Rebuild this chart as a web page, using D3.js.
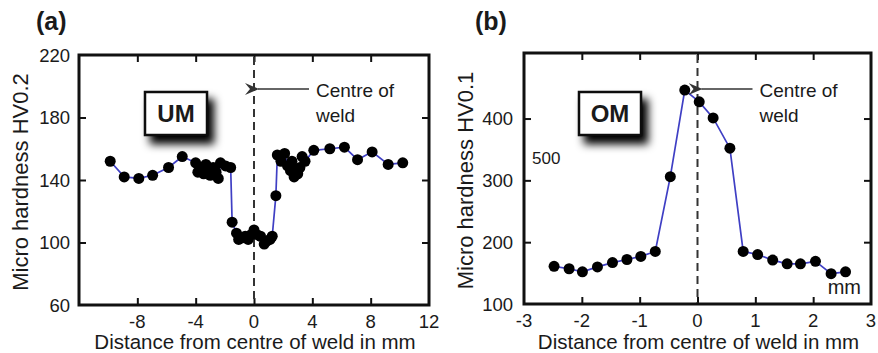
<!DOCTYPE html>
<html>
<head>
<meta charset="utf-8">
<script src="https://cdn.jsdelivr.net/npm/d3@7"></script>
<style>
  body { margin: 0; background: #fff; }
  text { font-family: "Liberation Sans", Arial, sans-serif; fill: #1a1a1a; }
</style>
</head>
<body>
<svg id="chart" width="878" height="353"></svg>
<script>
// panel (a): UM, HV0.2
const umX = [-9.86, -8.9, -7.9, -6.95, -5.86, -4.92, -4.0, -3.85, -3.65, -3.45, -3.3, -3.15, -3.0, -2.8, -2.6, -2.45, -2.3, -1.95, -1.6,
  -1.5, -1.2, -1.05, -0.8, -0.6, -0.4, -0.2, 0.0, 0.2, 0.45, 0.7, 0.9, 1.1, 1.25, 1.5,
  1.6, 1.85, 2.1, 2.3, 2.5, 2.6, 2.75, 2.9, 3.0, 3.15, 3.3, 3.5, 4.1, 5.2, 6.2, 7.1, 8.1, 9.2, 10.2];
const umY = [152, 142, 141, 143, 148, 155, 151, 145, 148, 144, 150, 146, 143, 148, 145, 141, 151, 149, 148,
  113, 106, 102, 103, 104, 102, 105, 108, 105, 104, 99, 101, 102, 104, 130,
  156, 152, 157, 149, 146, 152, 142, 147, 144, 148, 155, 152, 159, 160, 161, 153, 158, 150, 151];
const umXTicks = [-8, -4, 0, 4, 8, 12];
const umYTicks = [60, 100, 140, 180, 220];

// panel (b): OM, HV0.1
const omX = [-2.48, -2.22, -1.99, -1.73, -1.47, -1.22, -0.98, -0.73, -0.47, -0.22, 0.03, 0.27, 0.56, 0.79, 1.04, 1.3, 1.55, 1.78, 2.04, 2.31, 2.56];
const omY = [161, 157, 152, 160, 167, 172, 177, 185, 306, 446, 427, 401, 352, 185, 180, 171, 165, 165, 169, 149, 152];
const omXTicks = [-3, -2, -1, 0, 1, 2, 3];
const omYTicks = [100, 200, 300, 400];

const svg = d3.select('#chart');

const defs = svg.append('defs');
const shadow = defs.append('filter').attr('id', 'shadow')
    .attr('x', '-30%').attr('y', '-30%').attr('width', '170%').attr('height', '190%');
shadow.append('feGaussianBlur').attr('in', 'SourceAlpha').attr('stdDeviation', 4);
shadow.append('feOffset').attr('dx', 6).attr('dy', 8).attr('result', 'off');
shadow.append('feComponentTransfer').append('feFuncA').attr('type', 'linear').attr('slope', 1);
const merge = shadow.append('feMerge');
merge.append('feMergeNode');
merge.append('feMergeNode').attr('in', 'SourceGraphic');

defs.append('marker').attr('id', 'arrow')
    .attr('viewBox', '0 0 14 12').attr('refX', 1).attr('refY', 6)
    .attr('markerWidth', 14).attr('markerHeight', 12).attr('markerUnits', 'userSpaceOnUse')
    .attr('orient', 'auto-start-reverse')
  .append('path').attr('d', 'M0,6 L14,0 L9,6 L14,12 Z').attr('fill', '#333');

function drawPanel(cfg) {
    const x = d3.scaleLinear().domain(cfg.xDomain).range([cfg.left, cfg.right]);
    const y = d3.scaleLinear().domain(cfg.yDomain).range([cfg.bottom, cfg.top]);
    const g = svg.append('g');

    // ticks pointing inwards on all four sides
    const tk = 7;
    const innerX = cfg.xTicks.filter(d => d > cfg.xDomain[0] && d < cfg.xDomain[1]);
    const innerY = cfg.yTicks.filter(d => d > cfg.yDomain[0] && d < cfg.yDomain[1]);
    g.append('g').attr('transform', `translate(0,${cfg.bottom})`)
        .call(d3.axisTop(x).tickValues(innerX).tickSize(tk).tickFormat(''));
    g.append('g').attr('transform', `translate(0,${cfg.top})`)
        .call(d3.axisBottom(x).tickValues(innerX).tickSize(tk).tickFormat(''));
    g.append('g').attr('transform', `translate(${cfg.left},0)`)
        .call(d3.axisRight(y).tickValues(innerY).tickSize(tk).tickFormat(''));
    g.append('g').attr('transform', `translate(${cfg.right},0)`)
        .call(d3.axisLeft(y).tickValues(innerY).tickSize(tk).tickFormat(''));
    g.selectAll('.domain').remove();
    g.selectAll('.tick line').attr('stroke', '#111').attr('stroke-width', 2);

    // tick labels
    g.selectAll('.xl').data(cfg.xTicks).join('text')
        .attr('x', d => x(d)).attr('y', cfg.bottom + 23)
        .attr('text-anchor', 'middle').attr('font-size', 18.5)
        .text(d => d);
    g.selectAll('.yl').data(cfg.yTicks).join('text')
        .attr('x', cfg.left - cfg.yLabelGap).attr('y', d => y(d) + 6.5)
        .attr('text-anchor', 'end').attr('font-size', 18.5)
        .text(d => d);

    // centre line
    g.append('line')
        .attr('x1', x(0)).attr('x2', x(0)).attr('y1', cfg.top + 2).attr('y2', cfg.bottom)
        .attr('stroke', '#333').attr('stroke-width', 2).attr('stroke-dasharray', '8,5');

    // data
    g.append('path').datum(d3.zip(cfg.xs, cfg.ys))
        .attr('fill', 'none').attr('stroke', '#3f3fc4').attr('stroke-width', 1.7)
        .attr('d', d3.line().x(d => x(d[0])).y(d => y(d[1])));
    g.selectAll('.pt').data(d3.zip(cfg.xs, cfg.ys)).join('circle')
        .attr('cx', d => x(d[0])).attr('cy', d => y(d[1])).attr('r', 5.5)
        .attr('fill', '#000');

    // frame
    g.append('rect')
        .attr('x', cfg.left).attr('y', cfg.top)
        .attr('width', cfg.right - cfg.left).attr('height', cfg.bottom - cfg.top)
        .attr('fill', 'none').attr('stroke', '#111').attr('stroke-width', 3);

    // material box
    const bx = cfg.left + cfg.boxDx, by = 92, bw = 62, bh = 43;
    g.append('rect').attr('x', bx).attr('y', by).attr('width', bw).attr('height', bh)
        .attr('fill', '#fff').attr('stroke', '#111').attr('stroke-width', 2.5)
        .attr('filter', 'url(#shadow)');
    g.append('text').attr('x', bx + bw / 2).attr('y', by + bh / 2 + 8.5)
        .attr('text-anchor', 'middle').attr('font-size', 24).attr('font-weight', 'bold')
        .text(cfg.box);

    // annotation
    g.append('line')
        .attr('x1', x(0) + 55).attr('x2', x(0) + 4).attr('y1', 89).attr('y2', 89)
        .attr('stroke', '#333').attr('stroke-width', 1.3).attr('marker-end', 'url(#arrow)');
    g.append('text').attr('x', x(0) + 62).attr('y', 97).attr('font-size', 19).text('Centre of');
    g.append('text').attr('x', x(0) + 62).attr('y', 122).attr('font-size', 19).text('weld');

    // titles
    g.append('text')
        .attr('transform', `translate(${cfg.yTitleX},${(cfg.top + cfg.bottom) / 2 + 2}) rotate(-90)`)
        .attr('text-anchor', 'middle').attr('font-size', 22)
        .text(cfg.yTitle);
    g.append('text').attr('x', (cfg.left + cfg.right) / 2 + 1).attr('y', 349)
        .attr('text-anchor', 'middle').attr('font-size', 20.5)
        .text('Distance from centre of weld in mm');
    g.append('text').attr('x', cfg.panelX).attr('y', 30)
        .attr('font-size', 25).attr('font-weight', 'bold').text(cfg.panel);
    return {x, y, g};
}

drawPanel({
    panel: '(a)', panelX: 36, box: 'UM', boxDx: 66,
    left: 79, right: 429, top: 55, bottom: 305,
    xDomain: [-12, 12], yDomain: [60, 220],
    xTicks: umXTicks, yTicks: umYTicks,
    xs: umX, ys: umY, yLabelGap: 9,
    yTitle: 'Micro hardness HV0.2', yTitleX: 28
});

const b = drawPanel({
    panel: '(b)', panelX: 475, box: 'OM', boxDx: 55,
    left: 524, right: 871, top: 53, bottom: 304,
    xDomain: [-3, 3], yDomain: [100, 506],
    xTicks: omXTicks, yTicks: omYTicks,
    xs: omX, ys: omY, yLabelGap: 11,
    yTitle: 'Micro hardness HV0.1', yTitleX: 473
});

// stray labels in panel (b)
b.g.append('text').attr('x', 532).attr('y', 164).attr('font-size', 17).text('500');
b.g.append('text').attr('x', 861).attr('y', 294).attr('text-anchor', 'end')
    .attr('font-size', 20).text('mm');
</script>
</body>
</html>
